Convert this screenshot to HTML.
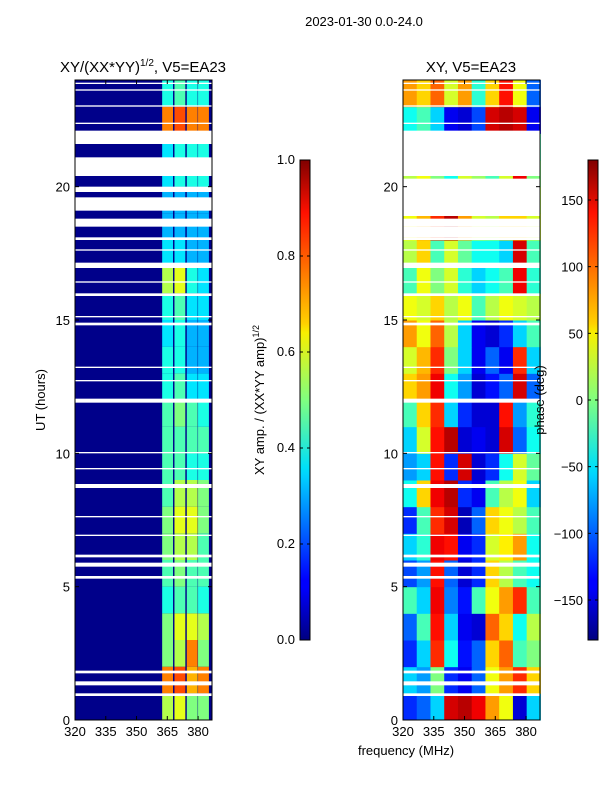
<!DOCTYPE html>
<html><head><meta charset="utf-8">
<style>
body{margin:0;background:#fff;}
svg{display:block;font-family:"Liberation Sans","DejaVu Sans",sans-serif;}
</style></head>
<body>
<svg id="fig" width="600" height="800" xmlns="http://www.w3.org/2000/svg">
<defs>
<linearGradient id="jet" x1="0" y1="1" x2="0" y2="0">
<stop offset="0" stop-color="#000080"/><stop offset="0.11" stop-color="#0000ff"/><stop offset="0.125" stop-color="#0000ff"/>
<stop offset="0.34" stop-color="#00d0ff"/><stop offset="0.36" stop-color="#00e0f8"/><stop offset="0.5" stop-color="#80ff80"/>
<stop offset="0.64" stop-color="#f8f000"/><stop offset="0.66" stop-color="#ffd000"/><stop offset="0.89" stop-color="#ff1000"/>
<stop offset="1" stop-color="#800000"/>
</linearGradient>
</defs>
<text x="364" y="26" font-size="13" text-anchor="middle">2023-01-30 0.0-24.0</text>
<text x="143" y="72" font-size="15" text-anchor="middle">XY/(XX*YY)<tspan font-size="10" dy="-6">1/2</tspan><tspan dy="6">, V5=EA23</tspan></text>
<text x="471" y="72" font-size="15" text-anchor="middle">XY, V5=EA23</text>
<g id="left"></g>
<g id="right"></g>
<g id="axes"></g>
<text x="406" y="755" font-size="13" text-anchor="middle">frequency (MHz)</text>
<text transform="translate(45,400) rotate(-90)" font-size="13" text-anchor="middle">UT (hours)</text>
<text transform="translate(264,400) rotate(-90)" font-size="13" text-anchor="middle">XY amp. / (XX*YY amp)<tspan font-size="9" dy="-5">1/2</tspan></text>
<text transform="translate(544,400) rotate(-90)" font-size="13" text-anchor="middle">phase (deg)</text>
<rect x="300" y="160" width="10" height="480" fill="url(#jet)" stroke="#000" stroke-width="1"/>
<rect x="588" y="160" width="10" height="480" fill="url(#jet)" stroke="#000" stroke-width="1"/>
<g id="cbars"></g>
</svg>
<script>
const ampBandFreqs=[362.5,368.5,374.5,380];
const ampBandWidth=5.3;
const ampBackground=0.01;
const ampValues=[
[.55,.6,.5,.5],[.75,.8,.7,.75],[.5,.55,.75,.5],[.5,.6,.6,.55],[.4,.45,.45,.4],[.45,.5,.45,.45],
[.5,.55,.55,.45],[.5,.6,.6,.5],[.45,.55,.55,.5],[.45,.45,.4,.4],[.45,.45,.45,.45],[.45,.5,.45,.4],
[.4,.45,.35,.35],[.4,.4,.3,.3],[.35,.4,.3,.3],[.4,.45,.35,.35],[.55,.6,.4,.35],[.35,.35,.3,.3],
[.3,.3,.3,.3],[.3,.3,.3,.3],[.35,.4,.4,.4],[.35,.4,.4,.4],[.75,.8,.75,.75],[.4,.45,.4,.4]];
const phaseFreqs=[320,326.7,333.4,340.1,346.8,353.5,360.2,366.9,373.6,380.3];
const phaseWidth=6.7;
const phaseValues=[
[-120,-100,-60,150,160,140,80,40,-150,-60],
[-60,-80,0,-120,-140,-100,40,80,120,60],
[-120,-60,120,-40,-130,-100,60,100,-20,0],
[-100,-20,130,-60,-140,-150,100,60,-40,20],
[-20,-60,140,-90,-130,-20,40,80,120,-20],
[-110,-80,130,-100,-150,-120,60,20,-20,-40],
[-60,-30,140,130,-140,-120,30,50,80,-40],
[-120,-20,120,150,-160,-100,60,40,20,-20],
[-40,60,140,160,-120,-140,-20,20,40,-60],
[-80,-60,130,-120,150,-150,-120,-40,30,-10],
[-60,30,130,160,-150,-140,-150,150,-100,-40],
[-20,60,120,-60,-120,-150,-150,130,-80,-30],
[60,80,140,-40,-80,-150,-130,-100,150,-100],
[30,70,120,0,-60,-140,-100,-140,120,-60],
[80,40,100,20,-60,-140,-150,-120,-60,-20],
[40,30,60,20,40,-20,20,40,30,20],
[-20,40,0,30,-30,-60,-40,-20,140,-30],
[20,60,-20,30,-10,-40,-40,-60,150,-20],
[40,70,120,160,80,30,20,60,60,30],
[30,20,40,30,10,20,20,30,40,20],
[20,40,0,-40,30,10,-20,30,140,0],
[0,30,-20,10,20,10,-10,20,140,-20],
[-40,-20,-60,-140,-150,-110,150,160,150,-140],
[80,60,100,30,80,-30,60,130,40,-100]];
const gapStarts=[0.9,1.3,1.75,5.3,5.75,6.1,6.9,7.6,8.7,9.4,10.0,11.9,12.7,13.2,14.8,15.1,15.9,16.4,16.95,17.6,18.0,18.5,19.1,19.8,20.4,21.6,22.35,23.0,23.6,23.85];
const gapEnds=  [1.0,1.45,1.85,5.4,5.9,6.2,6.95,7.65,8.85,9.45,10.05,12.05,12.75,13.25,14.9,15.15,16.0,16.45,17.15,17.65,18.1,18.8,19.6,20.0,21.1,22.1,22.4,23.05,23.65,23.9];
const phaseGapStarts=[18.1,18.9,20.6];
const phaseGapEnds=[18.5,20.3,21.6];
const xTicks=[320,335,350,365,380];
const yTicks=[0,5,10,15,20];
const ampTicks=[0,0.2,0.4,0.6,0.8,1.0];
const phaseTicks=[-150,-100,-50,0,50,100,150];

const NS="http://www.w3.org/2000/svg";
const T0=80,T1=720,FMIN=320,FMAX=386.8;
const panels={left:75,right:403};const PW=137;
function yS(h){return T1-(h/24)*(T1-T0);}
function xS(f,x0){return x0+(f-FMIN)/(FMAX-FMIN)*PW;}
function jet(v){v=Math.max(0,Math.min(1,v));
 const r=Math.max(0,Math.min(1,1.5-Math.abs(4*v-3))),g=Math.max(0,Math.min(1,1.5-Math.abs(4*v-2))),b=Math.max(0,Math.min(1,1.5-Math.abs(4*v-1)));
 return `rgb(${Math.round(r*255)},${Math.round(g*255)},${Math.round(b*255)})`;}
function rect(p,x,y,w,h,fill,name){const r=document.createElementNS(NS,'rect');
 r.setAttribute('x',x);r.setAttribute('y',y);r.setAttribute('width',w);r.setAttribute('height',h);r.setAttribute('fill',fill);
 
 
 p.appendChild(r);return r;}
function line(p,x1,y1,x2,y2,name){const l=document.createElementNS(NS,'line');
 l.setAttribute('x1',x1);l.setAttribute('y1',y1);l.setAttribute('x2',x2);l.setAttribute('y2',y2);l.setAttribute('stroke','#000');
 
 
 p.appendChild(l);}
function text(p,x,y,s,anchor,name){const t=document.createElementNS(NS,'text');
 t.setAttribute('x',x);t.setAttribute('y',y);t.setAttribute('font-size','13');t.setAttribute('text-anchor',anchor);t.textContent=s;
 
 
 p.appendChild(t);}
const L=document.getElementById('left'),R=document.getElementById('right');
rect(L,75,T0,PW,T1-T0,jet(ampBackground),'amp-background');
ampValues.forEach((row,i)=>{row.forEach((v,j)=>{
 const x=xS(ampBandFreqs[j],75),w=xS(ampBandFreqs[j]+ampBandWidth,75)-x;
 rect(L,x,yS(i+1),w,yS(i)-yS(i+1),jet(v),'amp-cell');});});
phaseValues.forEach((row,i)=>{row.forEach((v,j)=>{
 const x=xS(phaseFreqs[j],403),w=xS(phaseFreqs[j]+phaseWidth,403)-x;
 rect(R,x,yS(i+1),w+0.5,yS(i)-yS(i+1)+0.5,jet((v+180)/360),'phase-cell');});});
gapStarts.forEach((s,i)=>{const y=yS(gapEnds[i]),h=yS(s)-y;
 rect(L,75,y,PW,h,'#fff','amp-gap');rect(R,403,y,PW,h,'#fff','phase-gap');});
phaseGapStarts.forEach((s,i)=>{const y=yS(phaseGapEnds[i]);rect(R,403,y,PW,yS(s)-y,'#fff','phase-gap');});
const A=document.getElementById('axes');
for(const k in panels){const x0=panels[k];
 const fr=rect(A,x0,T0,PW,T1-T0,'none',k+'-frame');fr.setAttribute('stroke','#000');
 xTicks.forEach(f=>{const x=xS(f,x0);line(A,x,T1,x,T1-4,'x-tick');line(A,x,T0,x,T0+4,'x-tick');text(A,x,736,String(f),'middle','x-tick-label');});
 yTicks.forEach(h=>{const y=yS(h);line(A,x0,y,x0+4,y,'y-tick');line(A,x0+PW,y,x0+PW-4,y,'y-tick');text(A,x0-5,y+5,String(h),'end','y-tick-label');});
}
const C=document.getElementById('cbars');
ampTicks.forEach(v=>{const y=640-v*480;line(C,300,y,303,y,'amp-cbar-tick');line(C,307,y,310,y,'amp-cbar-tick');text(C,295,y+4,v.toFixed(1),'end','amp-cbar-label');});
phaseTicks.forEach(v=>{const y=640-(v+180)/360*480;line(C,588,y,591,y,'phase-cbar-tick');line(C,595,y,598,y,'phase-cbar-tick');text(C,583,y+5,v<0?'\u2212'+(-v):String(v),'end','phase-cbar-label');});
</script>
</body></html>
